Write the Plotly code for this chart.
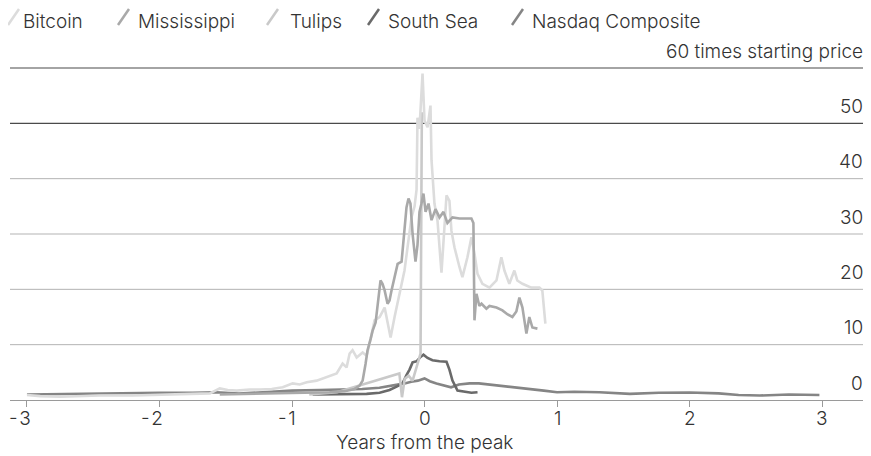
import plotly.graph_objects as go

# The page adds an 8px body margin; figure is sized/offset to compensate.
OFF = 8
W, H = 871 - OFF, 456 - OFF
ML, MR, MT, MB = 10 - OFF, 6, 68 - OFF, 56
PW, PH = W - ML - MR, H - MT - MB
XR = [-3.128, 3.324]
YR = [0, 60]

# ---------------- data (years from peak, times starting price) ----------------
btc_x = [-3.0, -2.9, -2.75, -2.6, -2.45, -2.2, -2.0, -1.77, -1.62, -1.545, -1.485, -1.417, -1.32,
         -1.243, -1.153, -1.07, -0.995, -0.942, -0.889, -0.814, -0.739, -0.663, -0.618, -0.588,
         -0.565, -0.543, -0.512, -0.467, -0.437, -0.414, -0.377, -0.339, -0.301, -0.279, -0.256,
         -0.226, -0.188, -0.151, -0.128, -0.098, -0.075, -0.06, -0.053, -0.038, -0.015, 0.0,
         0.023, 0.045, 0.053, 0.075, 0.098, 0.113, 0.128, 0.166, 0.188, 0.203, 0.226, 0.264,
         0.286, 0.324, 0.354, 0.377, 0.4, 0.437, 0.49, 0.543, 0.58, 0.603, 0.64, 0.678, 0.7,
         0.739, 0.806, 0.867, 0.889, 0.912]
btc_y = [0.9, 0.7, 0.6, 0.7, 0.8, 0.8, 0.9, 1.0, 1.2, 2.1, 1.8, 1.7, 1.9,
         1.9, 2.0, 2.3, 3.0, 2.8, 3.2, 3.5, 4.1, 4.8, 6.6, 5.9,
         8.4, 9.0, 7.7, 8.6, 8.0, 10.2, 14.4, 15.0, 16.7, 14.0, 11.3,
         15.0, 19.5, 23.4, 27.6, 33.0, 35.0, 38.0, 51.0, 49.0, 59.0, 50.5,
         49.3, 53.2, 43.3, 35.5, 32.4, 27.6, 23.0, 37.0, 36.0, 30.6, 27.6, 24.0,
         22.2, 25.8, 29.4, 26.5, 22.8, 21.0, 20.3, 21.6, 25.8, 23.4, 21.0, 23.4, 21.6,
         21.0, 20.3, 20.3, 19.8, 13.8]

mis_x = [-1.545, -1.243, -0.942, -0.716, -0.603, -0.527, -0.49, -0.467, -0.445, -0.43, -0.407,
         -0.392, -0.369, -0.354, -0.332, -0.317, -0.301, -0.279, -0.264, -0.249, -0.226, -0.203,
         -0.173, -0.158, -0.136, -0.121, -0.106, -0.09, -0.068, -0.053, -0.038, -0.023, -0.008,
         0.008, 0.03, 0.053, 0.083, 0.113, 0.143, 0.173, 0.211, 0.264, 0.354, 0.369, 0.377,
         0.392, 0.414, 0.43, 0.467, 0.49, 0.543, 0.588, 0.625, 0.663, 0.693, 0.716, 0.739,
         0.769, 0.791, 0.814, 0.852]
mis_y = [1.0, 1.1, 1.2, 1.4, 1.6, 2.0, 2.6, 3.5, 6.5, 9.0, 11.0,
         12.5, 14.0, 16.7, 21.6, 21.0, 19.8, 17.4, 18.0, 19.8, 22.0, 24.6,
         25.0, 29.0, 34.8, 36.4, 35.5, 30.0, 25.0, 28.0, 34.0, 35.5, 37.3,
         34.0, 35.5, 32.5, 34.5, 33.0, 34.0, 32.0, 33.0, 32.8, 32.8, 32.0, 14.4,
         19.2, 17.0, 17.4, 16.5, 17.0, 16.7, 16.2, 15.5, 15.0, 16.0, 18.5, 16.7,
         12.0, 15.0, 13.1, 12.9]

tul_x = [-0.87, -0.66, -0.19, -0.17, -0.15, -0.12, -0.09, -0.05, -0.03, -0.02]
tul_y = [1.0, 1.4, 4.8, 0.5, 3.8, 4.4, 3.5, 6.5, 8.4, 52.0]

ss_x = [-0.844, -0.64, -0.437, -0.339, -0.264, -0.203, -0.166, -0.136, -0.113, -0.09, -0.06,
        -0.03, -0.008, 0.023, 0.06, 0.113, 0.166, 0.188, 0.211, 0.249, 0.301, 0.354, 0.4]
ss_y = [1.0, 1.0, 1.1, 1.3, 1.8, 2.5, 3.0, 4.5, 5.5, 6.8, 7.0,
        7.8, 8.2, 7.6, 7.2, 7.0, 6.9, 5.5, 3.5, 1.7, 1.5, 1.3, 1.4]

nas_x = [-3.0, -2.75, -2.5, -2.25, -2.0, -1.75, -1.57, -1.4, -1.24, -1.0, -0.79, -0.6, -0.47,
         -0.34, -0.23, -0.15, -0.1, -0.05, 0.0, 0.04, 0.09, 0.15, 0.2, 0.26, 0.34, 0.41, 0.53,
         0.64, 0.79, 0.9, 1.0, 1.13, 1.32, 1.55, 1.77, 2.0, 2.22, 2.37, 2.53, 2.75, 2.98]
nas_y = [1.0, 1.1, 1.15, 1.25, 1.3, 1.3, 1.4, 1.15, 1.4, 1.7, 1.8, 1.9, 2.0,
         2.2, 2.6, 3.0, 3.3, 3.5, 3.9, 3.4, 3.0, 2.6, 2.3, 2.8, 3.0, 3.0, 2.7,
         2.4, 2.1, 1.7, 1.4, 1.5, 1.4, 1.1, 1.3, 1.35, 1.2, 0.9, 0.8, 1.0, 0.9]

series_names = ["Bitcoin", "Mississippi", "Tulips", "South Sea", "Nasdaq Composite"]
series_colors = ["#dcdcdc", "#a9a9a9", "#c9c9c9", "#6a6a6a", "#858585"]
series_data = [(btc_x, btc_y), (mis_x, mis_y), (tul_x, tul_y), (ss_x, ss_y), (nas_x, nas_y)]
draw_order = [4, 3, 2, 0, 1]

grid_vals = [10, 20, 30, 40, 50, 60]
grid_labels = ["10", "20", "30", "40", "50", "60 times starting price"]
x_ticks = [-3, -2, -1, 0, 1, 2, 3]

FONT = "Inter"
TXT = "#333333"
FS = 19

fig = go.Figure()
for i in draw_order:
    xs, ys = series_data[i]
    fig.add_trace(go.Scatter(x=xs, y=ys, mode="lines", name=series_names[i],
                             line=dict(color=series_colors[i], width=2.6),
                             showlegend=False, hoverinfo="skip"))

shapes, anns = [], []

def sx(px):  # screen pixel x -> paper
    return (px - OFF - ML) / PW

def sy(py):  # screen pixel y -> paper
    return (H - MB - (py - OFF)) / PH

# gridlines (paper-referenced so the top one is not clipped)
for v in grid_vals:
    col = "#4a4a4a" if v >= 50 else "#b3b3b3"
    shapes.append(dict(type="line", xref="paper", x0=0, x1=1, yref="paper",
                       y0=(v - YR[0]) / (YR[1] - YR[0]), y1=(v - YR[0]) / (YR[1] - YR[0]),
                       line=dict(color=col, width=1.2 if v >= 50 else 1), layer="below"))
# y labels (above gridlines)
for v, t in zip([0] + grid_vals, ["0"] + grid_labels):
    anns.append(dict(x=1, xref="paper", xanchor="right", y=v, yref="y", yanchor="middle",
                     yshift=17, text=t, showarrow=False,
                     font=dict(family=FONT, size=FS, color=TXT, weight=300)))
# x tick labels
for t in x_ticks:
    if t < 0:
        anns.append(dict(x=t, xref="x", xanchor="right", xshift=6, y=0, yref="paper",
                         yanchor="top", yshift=-5, text="-\u200a" + str(abs(t)), showarrow=False,
                         font=dict(family=FONT, size=FS, color=TXT, weight=300)))
    else:
        anns.append(dict(x=t, xref="x", xanchor="center", y=0, yref="paper",
                         yanchor="top", yshift=-5, text=str(t), showarrow=False,
                         font=dict(family=FONT, size=FS, color=TXT, weight=300)))
anns.append(dict(x=0, xref="x", xanchor="center", y=0, yref="paper", yanchor="top",
                 yshift=-29, text="Years from the peak", showarrow=False,
                 font=dict(family=FONT, size=FS, color=TXT, weight=300)))

# custom legend
leg_icon_px = [8, 118, 267, 368, 512]
leg_text_px = [21, 136, 288, 386, 530]
for i in range(5):
    x0 = leg_icon_px[i]
    shapes.append(dict(type="line", xref="paper", yref="paper",
                       x0=sx(x0), x1=sx(x0 + 11),
                       y0=sy(25), y1=sy(9),
                       line=dict(color=series_colors[i], width=2.5)))
    anns.append(dict(x=sx(leg_text_px[i]), xref="paper", xanchor="left",
                     y=sy(OFF), yref="paper", yanchor="top",
                     text=series_names[i], showarrow=False,
                     font=dict(family=FONT, size=FS, color=TXT, weight=300)))

fig.update_layout(
    width=W, height=H, margin=dict(l=ML, r=MR, t=MT, b=MB, pad=0),
    paper_bgcolor="white", plot_bgcolor="white", showlegend=False,
    shapes=shapes, annotations=anns,
    xaxis=dict(range=XR, showgrid=False, zeroline=False, showline=True, linecolor="#9a9a9a",
               linewidth=1, ticks="outside", ticklen=6, tickcolor="#9a9a9a",
               tickvals=x_ticks, showticklabels=False),
    yaxis=dict(range=YR, showgrid=False, zeroline=False, showline=False,
               showticklabels=False, ticks=""),
)
fig.write_html("out.html")
